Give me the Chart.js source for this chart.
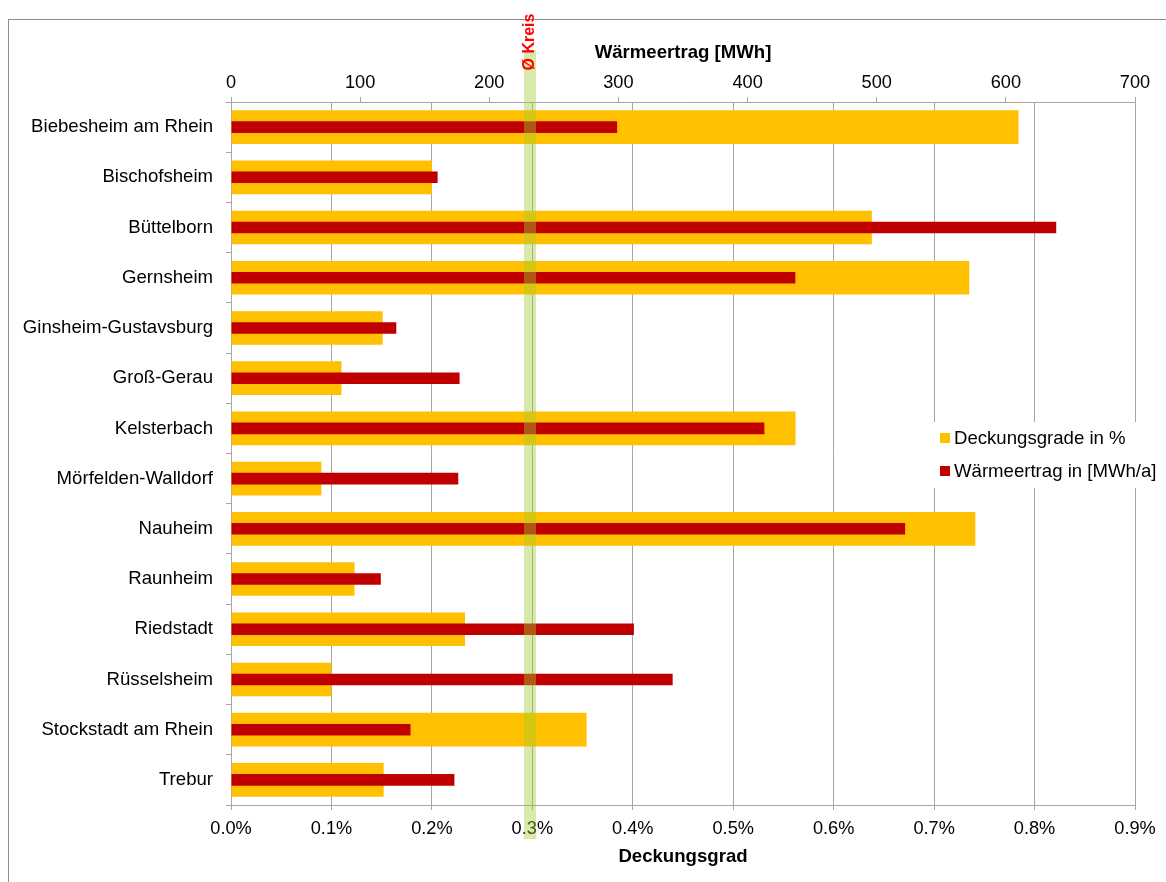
<!DOCTYPE html>
<html>
<head>
<meta charset="utf-8">
<title>Deckungsgrad und Wärmeertrag</title>
<script src="https://cdn.jsdelivr.net/npm/chart.js@4/dist/chart.umd.min.js"></script>
<style>
  html, body { margin: 0; padding: 0; background: #fff; }
  #wrap { width: 1166px; height: 882px; }
</style>
</head>
<body>
<div id="wrap"><canvas id="c" width="1166" height="882"></canvas></div>
<script>
// Gemeinden im Kreis
const gemeinden = [
  'Biebesheim am Rhein', 'Bischofsheim', 'Büttelborn', 'Gernsheim',
  'Ginsheim-Gustavsburg', 'Groß-Gerau', 'Kelsterbach', 'Mörfelden-Walldorf',
  'Nauheim', 'Raunheim', 'Riedstadt', 'Rüsselsheim',
  'Stockstadt am Rhein', 'Trebur'
];

// Deckungsgrad in Prozent
const deckungsgrad = [
  0.784, 0.200, 0.638, 0.735, 0.151, 0.110, 0.562,
  0.090, 0.741, 0.123, 0.233, 0.100, 0.354, 0.152
];

// Wärmeertrag in MWh/a
const waermeertrag = [
  299, 160, 639, 437, 128, 177, 413,
  176, 522, 116, 312, 342, 139, 173
];

// Kreisdurchschnitt des Deckungsgrads (Prozent)
const kreisDurchschnitt = 0.2977;

const FONT = '"Liberation Sans", Arial, sans-serif';
const GRID = '#A6A6A6';
const SIZE = 18.6;

// äußerer Rahmen
const framePlugin = {
  id: 'frame',
  beforeDraw(chart) {
    const ctx = chart.ctx;
    ctx.save();
    ctx.strokeStyle = '#8C8C8C';
    ctx.lineWidth = 1;
    ctx.strokeRect(8.5, 19.5, 3000, 3000);
    ctx.restore();
  }
};

// Markierung des Kreisdurchschnitts
const kreisPlugin = {
  id: 'kreis',
  afterDatasetsDraw(chart) {
    const ctx = chart.ctx;
    const area = chart.chartArea;
    const x = chart.scales.x.getPixelForValue(kreisDurchschnitt);
    ctx.save();
    ctx.fillStyle = 'rgba(160, 205, 50, 0.42)';
    ctx.fillRect(x - 6, area.top - 52, 12, area.bottom - area.top + 86);
    ctx.translate(x, area.top - 60);
    ctx.rotate(-Math.PI / 2);
    ctx.fillStyle = '#FF0000';
    ctx.font = 'bold 16px ' + FONT;
    ctx.textAlign = 'center';
    ctx.textBaseline = 'middle';
    ctx.fillText('Ø Kreis', 0, 0);
    ctx.restore();
  }
};

// Legende im Diagrammbereich
const legendPlugin = {
  id: 'boxLegend',
  afterDraw(chart) {
    const ctx = chart.ctx;
    const area = chart.chartArea;
    const left = area.right - 205;
    const top = area.top + 320;
    ctx.save();
    ctx.fillStyle = '#FFFFFF';
    ctx.fillRect(left, top, 232, 66);
    ctx.font = SIZE + 'px ' + FONT;
    ctx.textBaseline = 'middle';
    chart.data.datasets.forEach((ds, i) => {
      const cy = top + 16 + i * 33;
      ctx.fillStyle = ds.backgroundColor;
      ctx.fillRect(left + 10, cy - 5, 10, 10);
      ctx.fillStyle = '#000';
      ctx.fillText(ds.label, left + 24, cy + 1);
    });
    ctx.restore();
  }
};

new Chart(document.getElementById('c'), {
  type: 'bar',
  data: {
    labels: gemeinden,
    datasets: [
      {
        label: 'Deckungsgrade in %',
        data: deckungsgrad,
        xAxisID: 'x',
        backgroundColor: '#FFC000',
        barPercentage: 0.67,
        categoryPercentage: 1,
        grouped: false,
        order: 2
      },
      {
        label: 'Wärmeertrag in [MWh/a]',
        data: waermeertrag,
        xAxisID: 'x2',
        backgroundColor: '#C00000',
        barPercentage: 0.23,
        categoryPercentage: 1,
        grouped: false,
        order: 1
      }
    ]
  },
  options: {
    indexAxis: 'y',
    responsive: false,
    animation: false,
    devicePixelRatio: 1,
    layout: { padding: { left: 0, right: 31, top: 0, bottom: 0 } },
    plugins: {
      legend: { display: false },
      tooltip: { enabled: false }
    },
    scales: {
      y: {
        type: 'category',
        offset: true,
        grid: { offset: true, drawOnChartArea: false, color: GRID, tickLength: 5 },
        border: { color: GRID },
        ticks: { color: '#000', font: { family: FONT, size: SIZE }, padding: 13 },
        afterFit(scale) { scale.width = 231; }
      },
      x: {
        type: 'linear',
        position: 'bottom',
        min: 0,
        max: 0.9,
        grid: { color: GRID, tickLength: 5 },
        border: { color: GRID },
        ticks: {
          stepSize: 0.1,
          color: '#000',
          font: { family: FONT, size: 18.2 },
          padding: 8,
          callback: v => v.toFixed(1) + '%'
        },
        title: {
          display: true,
          text: 'Deckungsgrad',
          color: '#000',
          font: { family: FONT, size: SIZE, weight: 'bold' },
          padding: { top: 2, bottom: 14 }
        },
        afterFit(scale) { scale.height = 77; }
      },
      x2: {
        type: 'linear',
        position: 'top',
        min: 0,
        max: 700,
        grid: { drawOnChartArea: false, color: GRID, tickLength: 5 },
        border: { color: GRID },
        ticks: {
          stepSize: 100,
          color: '#000',
          font: { family: FONT, size: 18.2 },
          padding: 3
        },
        title: {
          display: true,
          text: 'Wärmeertrag [MWh]',
          color: '#000',
          font: { family: FONT, size: SIZE, weight: 'bold' },
          padding: { top: 42, bottom: 4 }
        },
        afterFit(scale) { scale.height = 102; }
      }
    }
  },
  plugins: [framePlugin, kreisPlugin, legendPlugin]
});
</script>
</body>
</html>
